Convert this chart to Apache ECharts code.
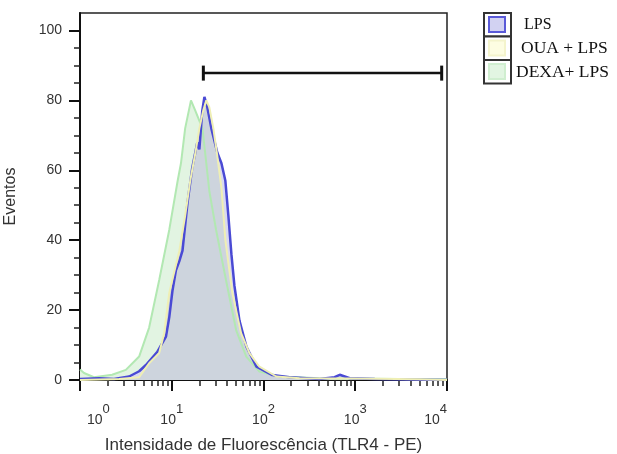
<!DOCTYPE html>
<html>
<head>
<meta charset="utf-8">
<script src="https://cdn.jsdelivr.net/npm/echarts@6/dist/echarts.min.js"></script>
<style>
  html, body { margin: 0; padding: 0; background: #fff; }
  #chart { width: 617px; height: 454px; }
</style>
</head>
<body>
<div id="chart"></div>
<script>
// fluorescence channel (x) and event counts (y)
const lpsX = [1, 1.61, 2.35, 3.43, 4.41, 5.23, 6.93, 8.65, 9.4, 10.2, 11.1, 12.1, 13.1, 14.9, 16.7, 19.0, 20.0, 21.5, 22.7, 24.4, 27.0, 31.4, 34.8, 38.4, 41.4, 44.7, 48.2, 54.7, 65.2, 83.8, 125, 192, 409, 595, 677, 871, 1634, 10000]
const lpsY = [0.3, 0.5, 0.3, 1, 2.5, 4.3, 8, 12.4, 18, 25.7, 31.4, 34, 37, 51, 60.6, 68, 66, 77, 81, 78, 72, 65, 62, 57, 47, 36, 27, 17, 9.5, 3.8, 1.4, 0.8, 0.3, 0.8, 1.5, 0.5, 0.3, 0]

const ouaX = [1, 2.67, 4.41, 5.67, 7.3, 8.27, 9.4, 12.1, 14.0, 15.9, 18.1, 20.0, 22.0, 23.8, 25.7, 28.4, 31.4, 34.8, 38.4, 45.7, 57.0, 70.2, 90.3, 138, 247, 871, 5050, 10000]
const ouaY = [0, 0.3, 0.8, 4.8, 7.7, 13.4, 25, 37, 47, 57, 65, 72, 77, 80, 78, 72, 64, 55, 40, 25, 13.4, 7.7, 3.8, 1, 0.5, 0.4, 0.2, 0]

const dexaX = [1, 1.106, 1.42, 2.24, 3.16, 4.41, 5.67, 7.3, 9.4, 11.6, 12.6, 14.0, 16.2, 18.1, 21.6, 23.8, 25.7, 30.4, 39.0, 50.3, 64.9, 90.3, 149, 408, 3050, 10000]
const dexaY = [3, 2, 0.8, 1.5, 2.9, 6.7, 15, 28.6, 43, 57, 62, 72, 80, 77, 72, 62, 54, 43, 28.6, 14.3, 6.7, 2.4, 1, 0.5, 0.3, 0.2]

// gate marker
const gateX = [22.1, 8750]
const gateY = [87.8, 87.8]

const seriesNames = ['LPS', 'OUA + LPS', 'DEXA+ LPS']
const yMajor = [0, 20, 40, 60, 80, 100]
const yMinor = [5, 10, 15, 25, 30, 35, 45, 50, 55, 65, 70, 75, 85, 90, 95]
const xMajor = [1, 10, 100, 1000, 10000]
const xMinor = [2, 3, 4, 5, 6, 7, 8, 9, 20, 30, 40, 50, 60, 70, 80, 90, 200, 300, 400, 500, 600, 700, 800, 900, 2000, 3000, 4000, 5000, 6000, 7000, 8000, 9000]

const pairs = (xs, ys) => xs.map((x, i) => [x, ys[i]])

const chart = echarts.init(document.getElementById('chart'), null, { renderer: 'canvas' })

const sans = '"Liberation Sans", Arial, sans-serif'
const serif = '"Liberation Serif", "Times New Roman", serif'

const areaSeries = (name, xs, ys, color) => ({
  name,
  type: 'line',
  data: pairs(xs, ys),
  symbol: 'none',
  lineStyle: { width: 0 },
  areaStyle: { color, opacity: 1 },
  silent: true
})

const lineSeries = (name, xs, ys, color, width) => ({
  name,
  type: 'line',
  data: pairs(xs, ys),
  symbol: 'none',
  lineStyle: { color, width },
  silent: true
})

const legendRows = [
  { label: seriesNames[0], fill: '#d2d2f2', stroke: '#5a5ad8', textX: 40, size: 16 },
  { label: seriesNames[1], fill: '#fdfde2', stroke: '#f4f4cc', textX: 37, size: 17.5 },
  { label: seriesNames[2], fill: '#e2f5e2', stroke: '#d0eed0', textX: 32, size: 17.5 }
]

const legendGraphic = {
  type: 'group',
  left: 483,
  top: 12,
  children: legendRows.flatMap((r, i) => [
    { type: 'rect', shape: { x: 0, y: i * 23.5, width: 27, height: 23.5 }, style: { fill: '#fff', stroke: '#333', lineWidth: 2 } },
    { type: 'rect', shape: { x: 5, y: i * 23.5 + 4, width: 16, height: 15 }, style: { fill: r.fill, stroke: r.stroke, lineWidth: 2 } },
    { type: 'text', x: r.textX, y: i * 23.5 + 12, style: { text: r.label, font: r.size + 'px ' + serif, fill: '#111', verticalAlign: 'middle' } }
  ])
}

const option = {
  animation: false,
  backgroundColor: '#fff',
  grid: {
    left: 80, right: 170, top: 13, bottom: 74,
    outerBoundsMode: 'none',
    containLabel: false,
    show: true, borderColor: '#222', borderWidth: 1.5, backgroundColor: '#fff'
  },
  xAxis: [
    {
      type: 'log', min: 1, max: 10000,
      name: 'Intensidade de Fluorescência (TLR4 - PE)',
      nameLocation: 'middle', nameGap: 57,
      nameTextStyle: { fontFamily: sans, fontSize: 17, color: '#333' },
      axisLine: { lineStyle: { color: '#111', width: 2 } },
      axisTick: { customValues: xMajor, length: 11, lineStyle: { color: '#111', width: 2 } },
      axisLabel: {
        customValues: xMajor,
        margin: 23,
        alignMinLabel: 'left',
        alignMaxLabel: 'right',
        formatter: (v) => {
          const e = Math.round(Math.log10(v))
          return (e === 0 ? '{p|}' : '') + '{b|10}{s|' + e + '}'
        },
        rich: {
          p: { width: 7 },
          b: { fontFamily: sans, fontSize: 14, color: '#333', lineHeight: 24, verticalAlign: 'bottom' },
          s: { fontFamily: sans, fontSize: 13, color: '#333', lineHeight: 24, verticalAlign: 'top' }
        }
      },
      splitLine: { show: false }
    },
    {
      type: 'log', min: 1, max: 10000, position: 'bottom',
      axisLine: { show: false },
      axisTick: { customValues: xMinor, length: 6, lineStyle: { color: '#222', width: 1.5 } },
      axisLabel: { show: false },
      splitLine: { show: false }
    }
  ],
  yAxis: [
    {
      type: 'value', min: 0, max: 105,
      name: 'Eventos', nameLocation: 'middle', nameGap: 61,
      nameTextStyle: { fontFamily: sans, fontSize: 16, color: '#333' },
      axisLine: { show: true, lineStyle: { color: '#111', width: 2 } },
      axisTick: { show: true, customValues: yMajor, length: 11, lineStyle: { color: '#111', width: 2 } },
      axisLabel: { customValues: yMajor, margin: 18, fontFamily: sans, fontSize: 14, color: '#333' },
      splitLine: { show: false }
    },
    {
      type: 'value', min: 0, max: 105, position: 'left',
      axisLine: { show: false },
      axisTick: { show: true, customValues: yMinor, length: 6, lineStyle: { color: '#222', width: 1.5 } },
      axisLabel: { show: false },
      splitLine: { show: false }
    }
  ],
  graphic: [legendGraphic],
  series: [
    areaSeries(seriesNames[2], dexaX, dexaY, '#e2f4e2'),
    areaSeries(seriesNames[0], lpsX, lpsY, '#d8d8f2'),
    areaSeries(seriesNames[1], ouaX, ouaY, '#cdd4dd'),
    lineSeries(seriesNames[2], dexaX, dexaY, '#b2e8b2', 2),
    lineSeries(seriesNames[0], lpsX, lpsY, '#4a4ad4', 2.5),
    lineSeries(seriesNames[1], ouaX, ouaY, '#efefb4', 2),
    {
      name: 'gate',
      type: 'line',
      data: pairs(gateX, gateY),
      symbol: 'rect',
      symbolSize: [3, 15],
      itemStyle: { color: '#111' },
      lineStyle: { color: '#111', width: 2.5 },
      silent: true
    }
  ]
}

chart.setOption(option)
window.addEventListener('resize', () => chart.resize())
</script>
</body>
</html>
